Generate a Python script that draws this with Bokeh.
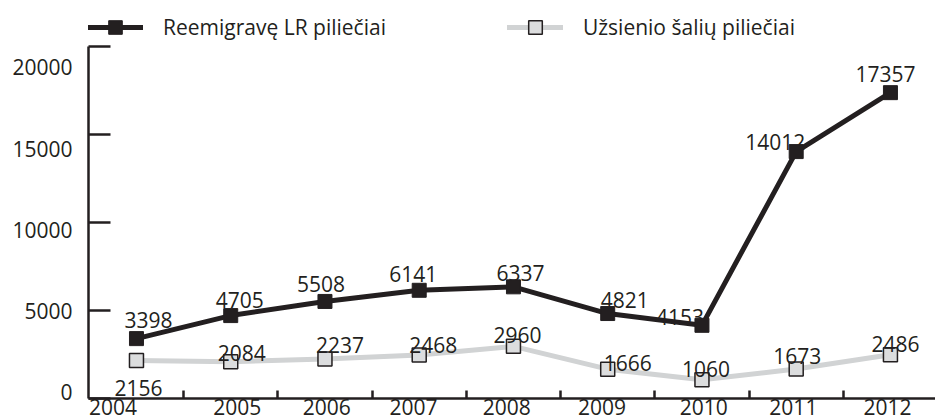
from bokeh.plotting import figure
from bokeh.models import ColumnDataSource, Range1d, FixedTicker, Legend, LegendItem
from bokeh.core.properties import value
from bokeh.embed import file_html
from bokeh.resources import INLINE

# ---- data ----
years = ["2004", "2005", "2006", "2007", "2008", "2009", "2010", "2011", "2012"]
returning = [3398, 4705, 5508, 6141, 6337, 4821, 4153, 14012, 17357]
foreign = [2156, 2084, 2237, 2468, 2960, 1666, 1060, 1673, 2486]
series_names = ["Reemigravę LR piliečiai", "Užsienio šalių piliečiai"]
y_ticks = [0, 5000, 10000, 15000, 20000]

# ---- label placement (screen px offsets, positions of tick labels) ----
ret_dx = [12, 9, -4, -6, 7, 17, -22, -21, -5]
ret_dy = [-19, -16, -17, -16, -14, -14, -8, -10, -19]
for_dx = [2, 11, 15, 14, 4, 20, 4, 1, 5]
for_dy = [27, -9, -14, -10, -11, -6, -11, -13, -11]
x_label_pos = [-0.25, 1.07, 2.02, 2.94, 3.93, 4.94, 6.02, 6.97, 7.97]
y_label_pos = [346, 4957, 9568, 14179, 18790]

INK = "#231f20"
GREY_LINE = "#d1d3d4"
GREY_FILL = "#dcddde"
FONT = "Open Sans"
FS = "21px"

xs = list(range(len(years)))
src_r = ColumnDataSource(dict(x=xs, y=returning, lbl=[str(v) for v in returning], dx=ret_dx, dy=ret_dy))
src_f = ColumnDataSource(dict(x=xs, y=foreign, lbl=[str(v) for v in foreign], dx=for_dx, dy=for_dy))

p = figure(width=935, height=417, x_range=Range1d(-0.509, 8.478), y_range=Range1d(0, 22586),
           output_backend="svg", toolbar_location=None,
           min_border_left=88, min_border_right=0, min_border_top=0, min_border_bottom=0)
p.outline_line_color = None
p.xgrid.visible = False
p.ygrid.visible = False
p.background_fill_color = "white"

# lines and markers
lf = p.line("x", "y", source=src_f, line_color=GREY_LINE, line_width=5, line_join="round", line_cap="round")
sf = p.scatter("x", "y", source=src_f, marker="square", size=14, fill_color=GREY_FILL,
               line_color=INK, line_width=1.5)
lr = p.line("x", "y", source=src_r, line_color=INK, line_width=5, line_join="round", line_cap="round")
sr = p.scatter("x", "y", source=src_r, marker="square", size=14, fill_color=INK, line_color=INK, line_width=1)

# value labels
for src in (src_r, src_f):
    p.text("x", "y", text="lbl", source=src, x_offset="dx", y_offset="dy",
           text_align="center", text_baseline="alphabetic",
           text_font=value(FONT), text_font_size=value(FS), text_color=INK)

# x axis: ticks at category boundaries, labels at categories
xa = p.xaxis[0]
xa.ticker = FixedTicker(ticks=x_label_pos, minor_ticks=[i + 0.5 for i in range(len(years) - 1)])
xa.major_label_overrides = {pos: yr for pos, yr in zip(x_label_pos, years)}
xa.major_tick_line_color = None
xa.major_tick_in = 0
xa.major_tick_out = 0
xa.minor_tick_in = 8
xa.minor_tick_out = 0
xa.minor_tick_line_color = INK
xa.minor_tick_line_width = 2.5
xa.axis_line_color = INK
xa.axis_line_width = 2.5
xa.major_label_standoff = 0
xa.major_label_text_font = FONT
xa.major_label_text_font_size = FS
xa.major_label_text_color = INK

ya = p.yaxis[0]
ya.bounds = (y_ticks[0], y_ticks[-1])
ya.ticker = FixedTicker(ticks=y_label_pos, minor_ticks=y_ticks)
ya.major_label_overrides = {pos: str(t) for pos, t in zip(y_label_pos, y_ticks)}
ya.major_tick_line_color = None
ya.major_tick_in = 0
ya.major_tick_out = 0
ya.minor_tick_in = 22
ya.minor_tick_out = 0
ya.minor_tick_line_color = INK
ya.minor_tick_line_width = 2.5
ya.axis_line_color = INK
ya.axis_line_width = 2.5
ya.major_label_standoff = 16
ya.major_label_text_font = FONT
ya.major_label_text_font_size = FS
ya.major_label_text_color = INK

legend = Legend(items=[LegendItem(label=series_names[0], renderers=[lr, sr]),
                       LegendItem(label=series_names[1], renderers=[lf, sf])],
                location=(-1, 354), orientation="horizontal", glyph_width=56, glyph_height=34,
                label_height=34, label_standoff=20, padding=0, margin=0, spacing=121,
                background_fill_alpha=0, border_line_color=None,
                label_text_font=FONT, label_text_font_size="21px", label_text_color=INK)
p.add_layout(legend)

open("out.html", "w").write(file_html(p, INLINE))
